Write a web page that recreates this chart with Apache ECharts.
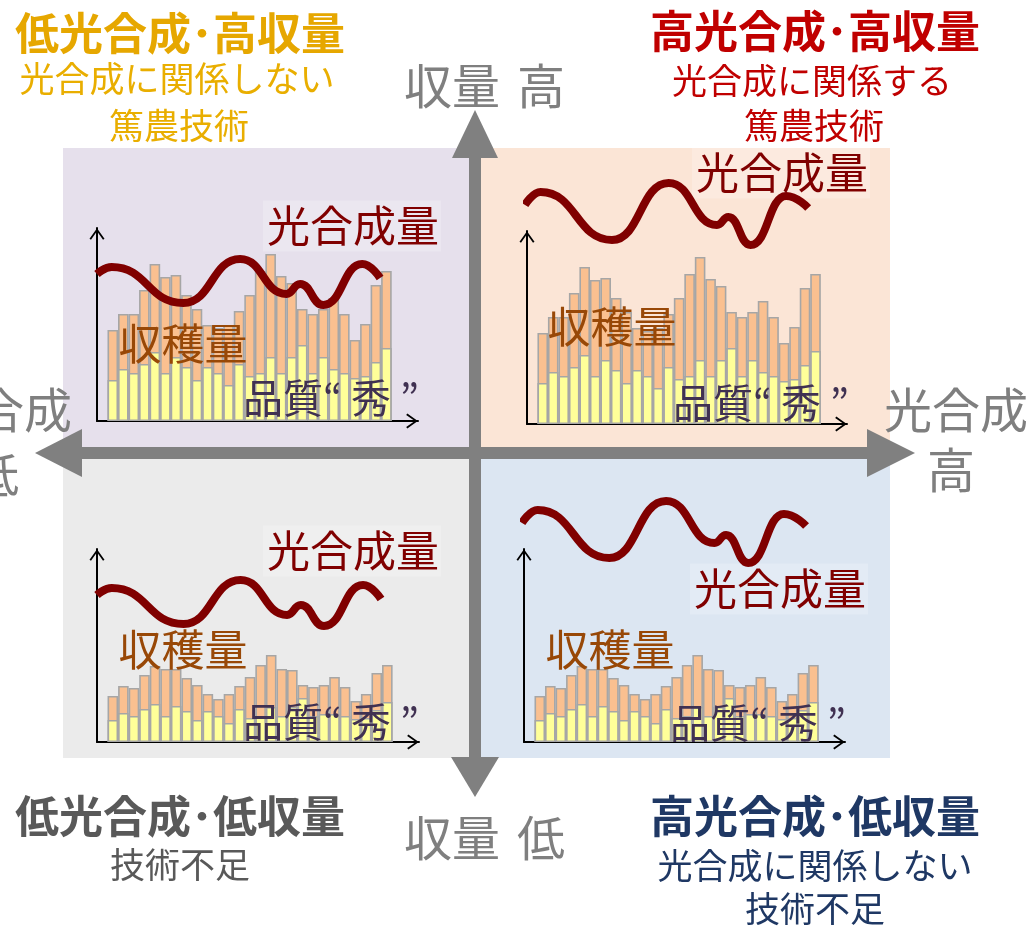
<!DOCTYPE html>
<html>
<head>
<meta charset="utf-8">
<title>光合成と収量</title>
<script src="https://cdn.jsdelivr.net/npm/echarts@6/dist/echarts.min.js"></script>
<style>
    html, body { margin: 0; padding: 0; background: #fff; }
    #main { width: 1032px; height: 929px; }
</style>
</head>
<body>
<div id="main"></div>
<script>
// 収穫量（棒の全体）と 品質“秀”（棒の下部）、高収量 / 低収量
var yieldHigh = [91, 107, 107, 131, 157, 144, 146, 126, 112, 96, 93, 96, 110, 126, 150, 167, 145, 138, 112, 107, 112, 123, 107, 81, 97, 136, 150]
var qualityHigh = [41, 52, 48, 57, 69, 48, 64, 54, 41, 54, 48, 36, 57, 45, 48, 64, 48, 64, 76, 48, 64, 52, 48, 43, 45, 59, 73]
var yieldLow = [46, 56, 54, 67, 76, 73, 73, 64, 57, 48, 43, 48, 56, 65, 77, 87, 73, 72, 57, 55, 57, 65, 55, 41, 48, 69, 77]
var qualityLow = [22, 29, 26, 33, 38, 26, 36, 31, 22, 31, 26, 19, 33, 24, 26, 35, 26, 35, 44, 26, 28, 28, 26, 23, 24, 32, 40]

// 光合成量の曲線（x は棒の番号、山と谷だけ）
var photoLowX = [-0.5, 0.9, 7.7, 13.1, 17.5, 18.8, 21.0, 24.7, 26.4]
var photoLowY = [147, 154, 118, 162, 127, 137, 116, 157, 143]
var photoHighX = [-0.7, 0.8, 7.6, 13.0, 17.6, 18.7, 20.8, 24.2, 26.3]
var photoHighY = [219, 232, 184, 241, 199, 207, 179, 228, 216]

var FONT = '"Noto Sans CJK JP", "Noto Sans CJK SC", sans-serif'

;(function () {
    var chart = echarts.init(document.getElementById('main'))

    // 4つの小さなグラフ（左上, 右上, 左下, 右下）
    var panels = [
        { left: 97, top: 228, width: 321, yields: yieldHigh, quality: qualityHigh, px: photoLowX, py: photoLowY },
        { left: 527, top: 231, width: 320, yields: yieldHigh, quality: qualityHigh, px: photoHighX, py: photoHighY },
        { left: 97, top: 549, width: 322, yields: yieldLow, quality: qualityLow, px: photoLowX, py: photoLowY },
        { left: 524, top: 549, width: 321, yields: yieldLow, quality: qualityLow, px: photoHighX, py: photoHighY },
    ]
    var chevron = 'path://M10,0 L20,14 L18,15.5 L10,4 L2,15.5 L0,14 Z'

    var axisCommon = function (i, min, max) {
        return {
            type: 'value',
            gridIndex: i,
            min: min,
            max: max,
            axisLine: {
                show: true,
                onZero: false,
                lineStyle: { color: '#000', width: 2 },
                symbol: ['none', chevron],
                symbolSize: [15, 12],
                symbolOffset: [0, -6],
            },
            axisTick: { show: false },
            axisLabel: { show: false },
            splitLine: { show: false },
        }
    }

    var series = []
    panels.forEach(function (p, i) {
        series.push({
            type: 'bar',
            xAxisIndex: i,
            yAxisIndex: i,
            barWidth: 10.6,
            barGap: '-100%',
            silent: true,
            itemStyle: { color: '#FAC090', borderColor: '#A6A6A6', borderWidth: 1.6 },
            data: p.yields.map(function (v, k) { return [k + 1, v] }),
        })
        series.push({
            type: 'bar',
            xAxisIndex: i,
            yAxisIndex: i,
            barWidth: 10.6,
            barGap: '-100%',
            silent: true,
            itemStyle: { color: '#FFFF99', borderColor: '#A6A6A6', borderWidth: 1.6 },
            data: p.quality.map(function (v, k) { return [k + 1, v] }),
        })
        series.push({
            type: 'line',
            xAxisIndex: i,
            yAxisIndex: i,
            smooth: 0.5,
            smoothMonotone: 'x',
            symbol: 'none',
            clip: false,
            silent: true,
            lineStyle: { color: '#800000', width: 8, cap: 'butt' },
            data: p.px.map(function (x, k) { return [x, p.py[k]] }),
        })
    })

    // テキスト
    var txt = function (text, x, y, color, size, bold, z, bg) {
        var el = {
            type: 'text',
            z: z || 10,
            silent: true,
            style: {
                text: text,
                x: x,
                y: y,
                fill: color,
                font: (bold ? 'bold ' : '') + size + 'px ' + FONT,
                align: 'center',
                verticalAlign: 'middle',
                textAlign: 'center',
                textVerticalAlign: 'middle',
            },
        }
        if (bg) {
            el.style.backgroundColor = bg
            el.style.padding = [6, 2, 2, 4]
        }
        return el
    }
    var rect = function (x, y, w, h, color, z) {
        return { type: 'rect', z: z, silent: true, shape: { x: x, y: y, width: w, height: h }, style: { fill: color } }
    }
    var tri = function (pts) {
        return { type: 'polygon', z: 1, silent: true, shape: { points: pts }, style: { fill: '#808080' } }
    }

    var gray = '#7F7F7F'
    var elements = [
        // 背景
        rect(63, 148, 412, 305, '#E6E0EC', -1),
        rect(475, 148, 415, 305, '#FBE5D6', -1),
        rect(63, 453, 412, 305, '#EBEBEB', -1),
        rect(475, 453, 415, 305, '#DCE6F2', -1),
        // 十字の矢印
        rect(469, 150, 12, 612, '#808080', 1),
        rect(75, 447, 800, 12, '#808080', 1),
        tri([[475, 110], [498, 158], [452, 158]]),
        tri([[475, 797], [499, 757], [451, 757]]),
        tri([[35, 453], [82, 429], [82, 477]]),
        tri([[915, 453], [867, 429], [867, 477]]),
        // 軸ラベル
        txt('収量', 452, 86, gray, 48, false),
        txt('高', 541, 86, gray, 48, false),
        txt('収量', 452, 838, gray, 48, false),
        txt('低', 541, 838, gray, 48, false),
        txt('光合成', 956, 410, gray, 48, false),
        txt('高', 951, 470, gray, 48, false),
        txt('光合成', 0, 410, gray, 48, false),
        txt('低', -5, 475, gray, 48, false),
        // 象限タイトル
        txt('低光合成･高収量', 180, 33, '#E6A700', 44, true),
        txt('光合成に関係しない', 177, 79, '#E9AE00', 35, false),
        txt('篤農技術', 179, 126, '#E9AE00', 35, false),
        txt('高光合成･高収量', 815, 31, '#C00000', 44, true),
        txt('光合成に関係する', 812, 81, '#C00000', 35, false),
        txt('篤農技術', 814, 126, '#C00000', 35, false),
        txt('低光合成･低収量', 180, 816, '#595959', 44, true),
        txt('技術不足', 180, 865, '#595959', 35, false),
        txt('高光合成･低収量', 815, 816, '#1F3864', 44, true),
        txt('光合成に関係しない', 815, 866, '#1F3864', 35, false),
        txt('技術不足', 815, 909, '#1F3864', 35, false),
        // グラフ内ラベル
        txt('光合成量', 352, 226, '#800000', 43, false, 1, 'rgba(255,255,255,0.22)'),
        txt('光合成量', 781, 173, '#800000', 43, false, 1, 'rgba(255,255,255,0.22)'),
        txt('光合成量', 352, 551, '#800000', 43, false, 1, 'rgba(255,255,255,0.22)'),
        txt('光合成量', 779, 589, '#800000', 43, false, 1, 'rgba(255,255,255,0.22)'),
        txt('収穫量', 183, 344, '#984807', 43, false),
        txt('収穫量', 612, 327, '#984807', 43, false),
        txt('収穫量', 183, 650, '#984807', 43, false),
        txt('収穫量', 610, 650, '#984807', 43, false),
        txt('品質“ 秀 ”', 331, 398, '#403152', 40, false),
        txt('品質“ 秀 ”', 761, 403, '#403152', 40, false),
        txt('品質“ 秀 ”', 331, 722, '#403152', 40, false),
        txt('品質“ 秀 ”', 758, 723, '#403152', 40, false),
    ]

    var option = {
        animation: false,
        backgroundColor: '#fff',
        grid: panels.map(function (p) {
            return { left: p.left, top: p.top, width: p.width, height: 193 }
        }),
        xAxis: panels.map(function (p, i) { return axisCommon(i, -0.5, 30) }),
        yAxis: panels.map(function (p, i) { return axisCommon(i, 0, 193) }),
        series: series,
        graphic: { elements: elements },
    }

    chart.setOption(option)
}())
</script>
</body>
</html>
